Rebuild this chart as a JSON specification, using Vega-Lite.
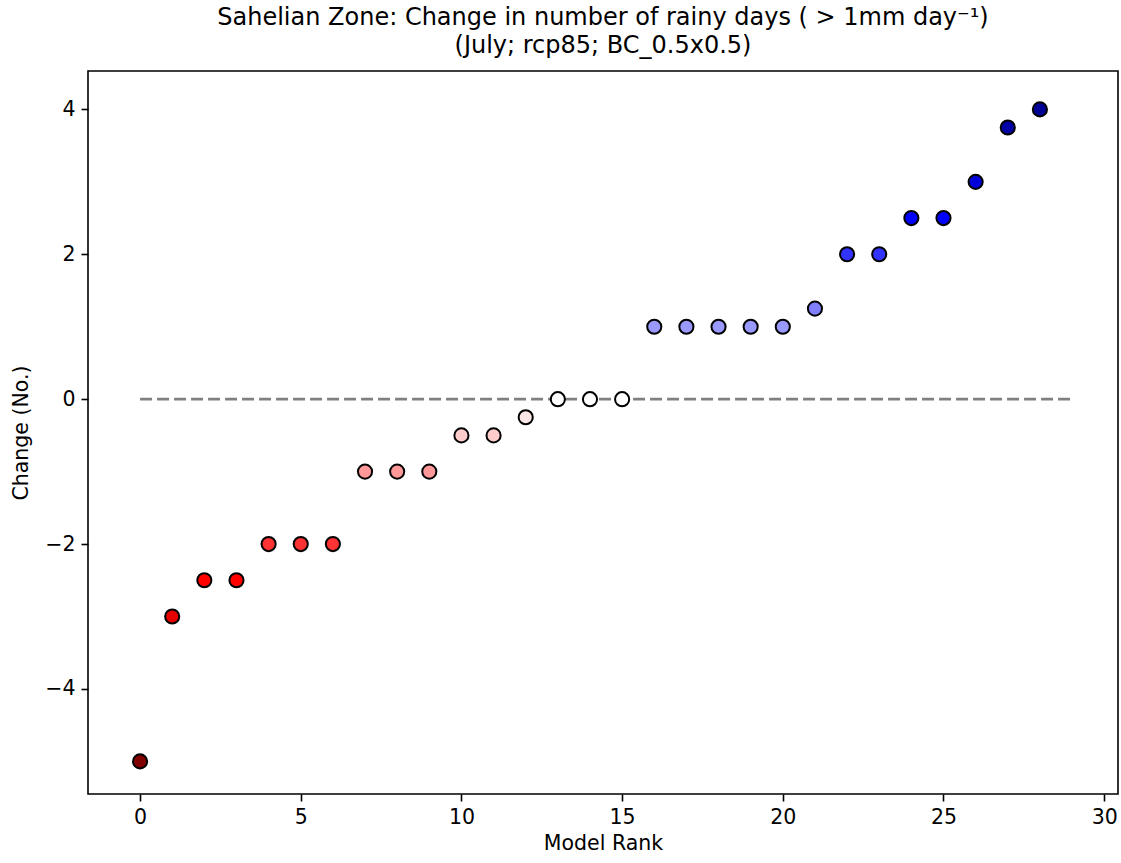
{
  "$schema": "https://vega.github.io/schema/vega-lite/v6.json",
  "width": 1030,
  "height": 723,
  "autosize": {"type": "none"},
  "padding": {"left": 88, "top": 71, "right": 3, "bottom": 69},
  "background": "white",
  "title": {
    "text": ["Sahelian Zone: Change in number of rainy days ( > 1mm day⁻¹)", "(July; rcp85; BC_0.5x0.5)"],
    "font": "DejaVu Sans",
    "fontSize": 24,
    "fontWeight": "normal",
    "color": "black",
    "anchor": "middle",
    "frame": "group",
    "offset": 13,
    "lineHeight": 28
  },
  "config": {
    "view": {"stroke": "black", "strokeWidth": 1.6},
    "axis": {
      "grid": false,
      "domain": false,
      "tickColor": "black",
      "tickSize": 7,
      "tickWidth": 1.6,
      "labelFont": "DejaVu Sans",
      "labelFontSize": 20.5,
      "labelColor": "black",
      "titleFont": "DejaVu Sans",
      "titleFontSize": 20.5,
      "titleFontWeight": "normal",
      "titleColor": "black",
      "labelPadding": 6
    }
  },
  "datasets": {
    "pts": [
      {"rank": 0, "change": -5},
      {"rank": 1, "change": -3},
      {"rank": 2, "change": -2.5},
      {"rank": 3, "change": -2.5},
      {"rank": 4, "change": -2},
      {"rank": 5, "change": -2},
      {"rank": 6, "change": -2},
      {"rank": 7, "change": -1},
      {"rank": 8, "change": -1},
      {"rank": 9, "change": -1},
      {"rank": 10, "change": -0.5},
      {"rank": 11, "change": -0.5},
      {"rank": 12, "change": -0.25},
      {"rank": 13, "change": 0},
      {"rank": 14, "change": 0},
      {"rank": 15, "change": 0},
      {"rank": 16, "change": 1},
      {"rank": 17, "change": 1},
      {"rank": 18, "change": 1},
      {"rank": 19, "change": 1},
      {"rank": 20, "change": 1},
      {"rank": 21, "change": 1.25},
      {"rank": 22, "change": 2},
      {"rank": 23, "change": 2},
      {"rank": 24, "change": 2.5},
      {"rank": 25, "change": 2.5},
      {"rank": 26, "change": 3},
      {"rank": 27, "change": 3.75},
      {"rank": 28, "change": 4}
    ],
    "zero": [
      {"rank": 0, "change": 0},
      {"rank": 29, "change": 0}
    ]
  },
  "encoding": {
    "x": {
      "field": "rank",
      "type": "quantitative",
      "scale": {"domain": [-1.62, 30.43], "nice": false, "zero": false},
      "axis": {"values": [0, 5, 10, 15, 20, 25, 30], "title": "Model Rank", "titlePadding": 6}
    },
    "y": {
      "field": "change",
      "type": "quantitative",
      "scale": {"domain": [-5.45, 4.53], "nice": false, "zero": false},
      "axis": {"values": [-4, -2, 0, 2, 4], "title": "Change (No.)", "titlePadding": 13}
    }
  },
  "layer": [
    {
      "data": {"name": "zero"},
      "mark": {"type": "line", "color": "#808080", "strokeWidth": 2.8, "strokeDash": [12, 5], "clip": true}
    },
    {
      "data": {"name": "pts"},
      "mark": {"type": "point", "filled": true, "shape": "circle", "size": 200, "stroke": "black", "strokeWidth": 2, "opacity": 1},
      "encoding": {
        "fill": {
          "field": "change",
          "type": "quantitative",
          "scale": {
            "domain": [-5, -2.5, 0, 2.5, 5],
            "range": ["#800000", "#ff0000", "#ffffff", "#0000ff", "#00004d"],
            "interpolate": "rgb"
          },
          "legend": null
        }
      }
    }
  ]
}
